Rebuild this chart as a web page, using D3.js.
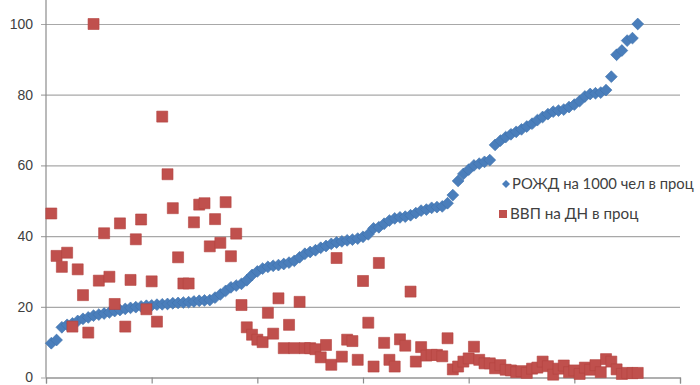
<!DOCTYPE html>
<html>
<head>
<meta charset="utf-8">
<script src="https://cdn.jsdelivr.net/npm/d3@7"></script>
<style>
  body { margin: 0; background: #fff; }
  svg { display: block; font-family: Lato, "Open Sans", sans-serif; }
</style>
</head>
<body>
<script>
// births per 1000, sorted ascending (Excel plots them against 1..N)
var rozhd = [
  9.7, 10.6, 14.2, 14.9, 15.3, 16.0, 16.6, 17.0, 17.5, 17.8,
  18.1, 18.4, 18.8, 19.1, 19.4, 19.7, 19.9, 20.1, 20.3, 20.4,
  20.6, 20.7, 20.8, 21.0, 21.1, 21.2, 21.3, 21.5, 21.7, 21.8,
  21.9, 22.6, 23.5, 24.5, 25.5, 26.0, 26.5, 27.5, 29.0, 30.0,
  30.8, 31.3, 31.6, 31.8, 32.1, 32.5, 33.0, 34.0, 35.0, 35.5,
  36.0, 36.7, 37.2, 37.8, 38.2, 38.5, 38.8, 39.0, 39.3, 39.8,
  40.5, 42.2, 42.5, 43.5, 44.4, 45.0, 45.3, 45.5, 45.9, 46.5,
  47.2, 47.5, 48.0, 48.2, 48.4, 49.3, 51.6, 55.6, 57.6, 58.8,
  60.0, 60.5, 61.0, 61.5, 65.8, 67.0, 68.0, 68.8, 69.5, 70.2,
  71.0, 71.8, 72.8, 73.7, 74.5, 75.2, 75.5, 75.8, 76.5, 77.2,
  78.2, 79.5, 80.2, 80.4, 80.6, 81.3, 85.1, 91.3, 92.5, 95.3,
  96.0, 100
];

// GDP share, same row order
var vvp = [
  46.4, 34.4, 31.3, 35.3, 14.4, 30.6, 23.3, 12.7, 100, 27.4,
  40.8, 28.5, 20.8, 43.6, 14.4, 27.6, 39.1, 44.7, 19.3, 27.2,
  15.8, 73.8, 57.5, 47.9, 34.0, 26.6, 26.6, 43.9, 48.9, 49.3,
  37.1, 44.8, 38.1, 49.6, 34.3, 40.7, 20.5, 14.2, 12.1, 10.7,
  10.0, 18.3, 12.4, 22.4, 8.3, 14.9, 8.3, 21.4, 8.3, 8.3,
  8.0, 5.7, 9.2, 3.6, 33.8, 5.9, 10.7, 10.3, 5.0, 27.3,
  15.5, 3.1, 32.4, 9.8, 5.0, 3.1, 10.8, 9.0, 24.3, 4.5,
  8.6, 6.2, 6.4, 6.4, 6.0, 11.1, 2.3, 3.1, 4.5, 5.4,
  8.7, 5.0, 4.0, 4.0, 2.6, 3.5, 2.2, 2.0, 1.5, 1.8,
  1.3, 2.5, 2.8, 4.5, 3.2, 0.8, 2.5, 3.4, 1.5, 2.0,
  1.0, 2.8, 2.2, 3.5, 1.5, 5.2, 4.5, 2.3, 1.0, 1.3,
  1.2, 1.3
];

var yTicks = [0, 20, 40, 60, 80, 100];
var xTicks = [0, 20, 40, 60, 80, 100, 120];
var seriesNames = ["РОЖД на 1000 чел в проц", "ВВП на ДН в проц"];

var W = 700, H = 385;
var left = 46, right = 680, y0 = 377.5, y100 = 24;

var blue = "#4a7ebb", red = "#c0504d";

var x = d3.scaleLinear().domain([0, 120]).range([left, right]);
var y = d3.scaleLinear().domain([0, 100]).range([y0, y100]);

var svg = d3.select("body")
  .append("svg")
  .attr("width", W)
  .attr("height", H);

// gridlines + y labels
var yAxis = svg.append("g")
  .attr("transform", `translate(${left},0)`)
  .call(d3.axisLeft(y).tickValues(yTicks).tickSize(-(right - left)).tickPadding(13));
yAxis.select(".domain").remove();
yAxis.selectAll(".tick line")
  .attr("x1", -5)
  .attr("stroke", "#a8a8a8")
  .attr("stroke-width", 1.2);
yAxis.selectAll(".tick text")
  .attr("fill", "#404040")
  .style("font-size", "14px");

// y axis line
svg.append("line")
  .attr("x1", left).attr("x2", left)
  .attr("y1", 0).attr("y2", y0)
  .attr("stroke", "#8c8c8c")
  .attr("stroke-width", 1.2);

// x axis, labels fall below the picture
var xAxis = svg.append("g")
  .attr("transform", `translate(0,${y0})`)
  .call(d3.axisBottom(x).tickValues(xTicks).tickSize(6).tickFormat(""));
xAxis.select(".domain").attr("stroke", "#8c8c8c").attr("stroke-width", 1.2);
xAxis.selectAll(".tick line").attr("stroke", "#8c8c8c").attr("stroke-width", 1.2);

var diamond = d3.symbol(d3.symbolSquare, 70);
var square = d3.symbol(d3.symbolSquare, 121);

svg.append("g")
  .selectAll("path")
  .data(rozhd)
  .join("path")
  .attr("d", diamond)
  .attr("transform", (d, i) => `translate(${x(i + 1)},${y(d)}) rotate(45)`)
  .attr("fill", blue)
  .attr("stroke", "#3f72ad")
  .attr("stroke-width", 0.6);

svg.append("g")
  .selectAll("path")
  .data(vvp)
  .join("path")
  .attr("d", square)
  .attr("transform", (d, i) => `translate(${x(i + 1)},${y(d)})`)
  .attr("fill", red)
  .attr("stroke", "#b4433f")
  .attr("stroke-width", 0.6);

// legend
var legend = svg.append("g");
legend.append("path")
  .attr("d", d3.symbol(d3.symbolSquare, 32))
  .attr("transform", "translate(506,184) rotate(45)")
  .attr("fill", blue);
legend.append("text")
  .attr("x", 512).attr("y", 189)
  .attr("fill", "#404040")
  .style("font-size", "14.8px")
  .text(seriesNames[0]);
legend.append("path")
  .attr("d", d3.symbol(d3.symbolSquare, 64))
  .attr("transform", "translate(503,214)")
  .attr("fill", red);
legend.append("text")
  .attr("x", 510).attr("y", 219)
  .attr("fill", "#404040")
  .style("font-size", "15.2px")
  .text(seriesNames[1]);
</script>
</body>
</html>
